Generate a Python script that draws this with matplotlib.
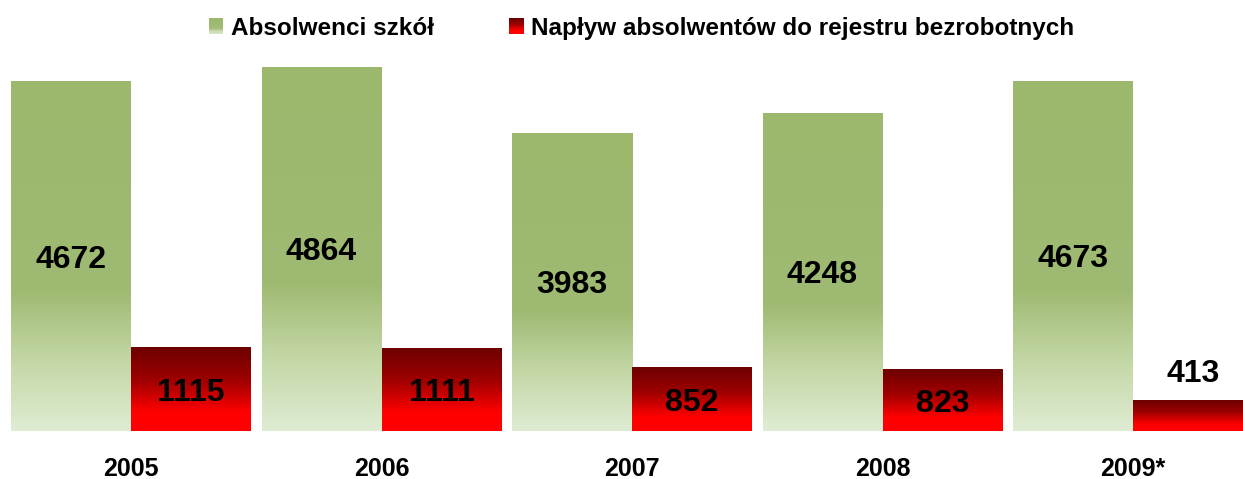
import numpy as np
import matplotlib
matplotlib.use("Agg")
import matplotlib.pyplot as plt
from matplotlib.colors import LinearSegmentedColormap
from matplotlib.patches import Rectangle
from matplotlib.legend_handler import HandlerBase

years = ["2005", "2006", "2007", "2008", "2009*"]
graduates = [4672, 4864, 3983, 4248, 4673]
inflow = [1115, 1111, 852, 823, 413]
series_names = ["Absolwenci szkół", "Napływ absolwentów do rejestru bezrobotnych"]

plt.rcParams['font.family'] = ['Liberation Sans', 'DejaVu Sans']

green_cmap = LinearSegmentedColormap.from_list(
    "g", [(0.0, "#9bb86d"), (0.6, "#9fba72"), (0.8, "#c3d7a5"), (1.0, "#dfecd3")])
red_cmap = LinearSegmentedColormap.from_list(
    "r", [(0.0, "#6c0000"), (0.4, "#a00000"), (0.78, "#ff0000"), (1.0, "#ff0000")])

W, H = 1243, 479
fig = plt.figure(figsize=(W / 100, H / 100), dpi=100)
ax = fig.add_axes([0, 48 / H, 1, (H - 48) / H])

x = np.arange(len(years))
bw = 120 / 250.5

grad = np.linspace(0, 1, 256).reshape(-1, 1)

def gradient_bars(bars, cmap):
    for b in bars:
        x0, y0 = b.get_x(), b.get_y()
        w, h = b.get_width(), b.get_height()
        b.set_facecolor("none")
        b.set_edgecolor("none")
        im = ax.imshow(grad, cmap=cmap, aspect="auto", extent=(x0, x0 + w, y0, y0 + h),
                       origin="upper", interpolation="bicubic", zorder=1)
        im.set_clip_path(b)

gb = ax.bar(x - bw / 2, graduates, width=bw, zorder=1)
rb = ax.bar(x + bw / 2, inflow, width=bw, zorder=1)
gradient_bars(gb, green_cmap)
gradient_bars(rb, red_cmap)
ax.set_xlim((0 - 131) / 250.5, (W - 131) / 250.5)
ax.set_ylim(0, 431 / 0.07491)

for b, v in zip(gb, graduates):
    ax.text(b.get_x() + b.get_width() / 2, v / 2, str(v), ha="center", va="center_baseline",
            fontsize=23, fontweight="bold", zorder=3)
for b, v in zip(rb, inflow):
    if v > 600:
        ax.text(b.get_x() + b.get_width() / 2, v / 2, str(v), ha="center", va="center_baseline",
                fontsize=23, fontweight="bold", zorder=3)
    else:
        ax.text(b.get_x() + b.get_width() / 2, v + 400, str(v), ha="center", va="center_baseline",
                fontsize=23, fontweight="bold", zorder=3)

ax.set_xticks(x)
ax.set_xticklabels(years, fontsize=18, fontweight="bold")
ax.tick_params(axis="x", length=0, pad=18.5)
ax.set_yticks([])
for s in ax.spines.values():
    s.set_visible(False)


class GradHandler(HandlerBase):
    def __init__(self, cmap):
        super().__init__()
        self.cmap = cmap

    def create_artists(self, legend, orig_handle, xdescent, ydescent, width, height, fontsize, trans):
        arts = []
        n = 12
        for i in range(n):
            frac = (i + 0.5) / n
            r = Rectangle((-xdescent, -ydescent + height * (1 - (i + 1) / n)), width, height / n + 0.3,
                          facecolor=self.cmap(frac), edgecolor="none", transform=trans)
            arts.append(r)
        return arts


h1 = Rectangle((0, 0), 1, 1)
h2 = Rectangle((0, 0), 1, 1)
fig.legend([h1, h2], series_names, loc="upper center", bbox_to_anchor=(0.516, 1.01), ncol=2,
           frameon=False, prop={"size": 17.5, "weight": "bold"},
           handler_map={h1: GradHandler(green_cmap), h2: GradHandler(red_cmap)},
           handlelength=0.6, handleheight=0.6, handletextpad=0.3, columnspacing=3.1)

fig.savefig("out.png", dpi=100)
